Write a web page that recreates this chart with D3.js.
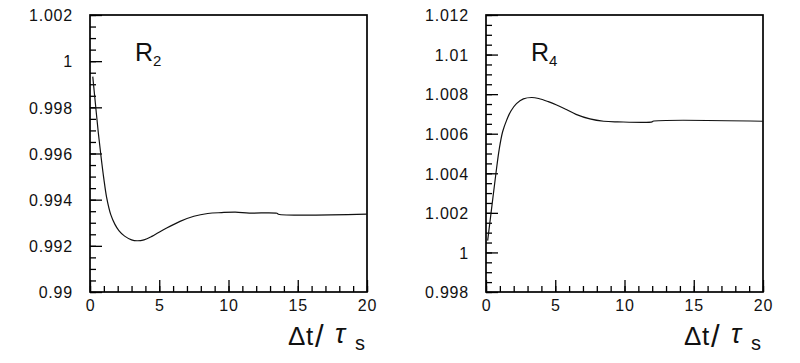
<html>
<head>
  <script src="https://d3js.org/d3.v7.min.js"></script>
</head>
<style>
  body { margin: 0; background: #fff; }
  text { font-family: 'Liberation Sans', Arial, sans-serif; fill: #000; }
  .axis text { font-size: 16px; letter-spacing: 0.8px; fill: #111; }
  .axis path { display: none; }
  .axis line { stroke: #000; stroke-width: 1.3; }
  .frame { fill: none; stroke: #000; stroke-width: 1.7; }
  .curve { fill: none; stroke: #111; stroke-width: 1.2; }
  .big { fill: #111; }
</style>
<body>
<script>
  // x in units of tau_s
  var xTicks = [0, 5, 10, 15, 20];

  // R2 curve
  var r2T = [0.2, 0.4, 0.6, 0.8, 1.0, 1.2, 1.5, 1.8, 2.1, 2.5, 3.0, 3.4, 3.9, 4.5, 5.5, 6.5, 7.5, 8.5, 9.5, 10.5, 11.5, 13.5, 13.6, 20];
  var r2V = [0.99933, 0.99810, 0.99690, 0.99585, 0.99490, 0.99410, 0.99335, 0.99293, 0.99265, 0.99242, 0.99226, 0.99222, 0.99226, 0.99242, 0.99276, 0.99306, 0.99328, 0.99340, 0.99344, 0.99346, 0.99342, 0.99341, 0.99337, 0.99337];
  var r2Ticks = [0.99, 0.992, 0.994, 0.996, 0.998, 1, 1.002];

  // R4 curve
  var r4T = [0.12, 0.4, 0.7, 0.95, 1.2, 1.5, 1.8, 2.2, 2.7, 3.3, 3.8, 4.5, 5.1, 5.8, 6.5, 7.5, 8.5, 9.5, 12, 12.05, 20];
  var r4V = [1.0006, 1.0022, 1.0039, 1.0052, 1.0061, 1.0067, 1.00715, 1.00752, 1.00776, 1.00783, 1.00778, 1.00762, 1.00745, 1.00722, 1.00698, 1.00675, 1.00663, 1.00660, 1.00660, 1.00663, 1.00663];
  var r4Ticks = [0.998, 1, 1.002, 1.004, 1.006, 1.008, 1.01, 1.012];

  var svg = d3.select("body").append("svg")
    .attr("width", 800)
    .attr("height", 363);

  function panel(x0, x1, yDom, yTicks, ts, vs, sub) {
    var top = 15, bottom = 292;
    var x = d3.scaleLinear().domain([0, 20]).range([x0, x1]);
    var y = d3.scaleLinear().domain(yDom).range([bottom, top]);
    var g = svg.append("g");

    // minor ticks
    g.append("g").attr("class", "axis")
      .attr("transform", "translate(" + x0 + ",0)")
      .call(d3.axisLeft(y).tickValues(d3.range(yDom[0], yDom[1] + 1e-9, 0.0005)).tickSize(-6).tickSizeOuter(0).tickFormat(""));
    g.append("g").attr("class", "axis")
      .attr("transform", "translate(0," + bottom + ")")
      .call(d3.axisBottom(x).tickValues(d3.range(0, 21, 1)).tickSize(-6).tickSizeOuter(0).tickFormat(""));

    // major ticks + labels
    g.append("g").attr("class", "axis")
      .attr("transform", "translate(" + x0 + ",0)")
      .call(d3.axisLeft(y).tickValues(yTicks).tickSize(-12).tickSizeOuter(0).tickPadding(17).tickFormat(d3.format("~g")))
      .selectAll("text").attr("dy", "0.36em");
    g.append("g").attr("class", "axis")
      .attr("transform", "translate(0," + bottom + ")")
      .call(d3.axisBottom(x).tickValues(xTicks).tickSize(-12).tickSizeOuter(0).tickPadding(8))
      .selectAll("text").attr("dy", "0.71em");

    g.append("rect").attr("class", "frame")
      .attr("x", x0).attr("y", top).attr("width", x1 - x0).attr("height", bottom - top);

    var line = d3.line().curve(d3.curveCatmullRom.alpha(0.5))
      .x(function(d) { return x(d[0]); })
      .y(function(d) { return y(d[1]); });
    g.append("path").attr("class", "curve")
      .attr("d", line(d3.zip(ts, vs)));

    // R label
    var lab = g.append("text").attr("class", "big").attr("x", x0 + 45).attr("y", 61)
      .style("font-size", "25px");
    lab.append("tspan").text("R");
    lab.append("tspan").attr("dy", 5).style("font-size", "15px").text(sub);

    // axis title, glyphs placed one by one
    var t = g.append("text").attr("class", "big").attr("y", 345).style("font-size", "26px");
    t.append("tspan").attr("x", x1 - 79).text("\u0394");
    t.append("tspan").attr("x", x1 - 61).text("t");
    t.append("tspan").attr("x", x1 - 52).attr("dy", 2).style("font-size", "31px").text("/");
    t.append("tspan").attr("x", x1 - 32).attr("dy", -4).style("font-style", "italic").style("font-size", "27px").text("\u03c4");
    t.append("tspan").attr("x", x1 - 12).attr("dy", 7).style("font-size", "20px").text("s");
  }

  panel(90, 367, [0.99, 1.002], r2Ticks, r2T, r2V, "2");
  panel(486, 763, [0.998, 1.012], r4Ticks, r4T, r4V, "4");
</script>
</body>
</html>
